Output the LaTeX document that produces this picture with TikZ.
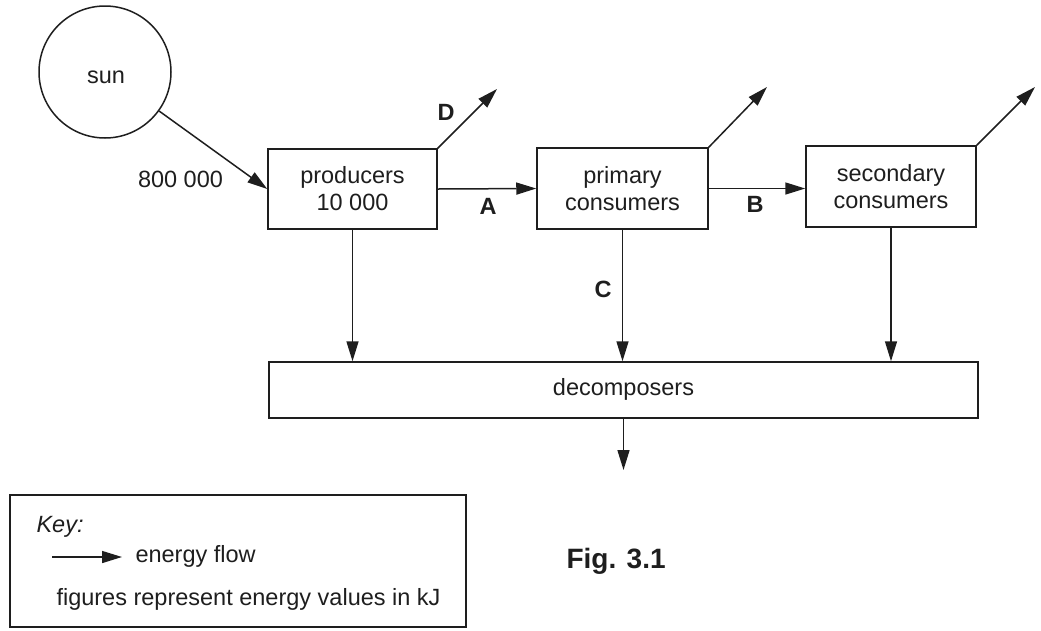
\documentclass[tikz,border=0pt]{standalone}
\usepackage{fontspec}
\setmainfont{Liberation Sans}
\usetikzlibrary{arrows.meta}
\definecolor{ink}{HTML}{1E1E1E}
\begin{document}
\begin{tikzpicture}[x=1pt,y=-1pt,
  font=\fontsize{23.5}{27}\selectfont,
  every node/.style={text=ink},
  box/.style={draw=ink, line width=1.5pt, inner sep=0pt, align=center},
  flow/.style={draw=ink, line width=1.5pt, -{Triangle[length=20pt,width=12pt]}},
  lab/.style={font=\fontsize{23.5}{27}\selectfont\bfseries, anchor=base},
  plain/.style={anchor=base},
  leftt/.style={anchor=base west},
]
\useasboundingbox (0,0) rectangle (1041,630);
% sun
\node[circle, draw=ink, line width=1.5pt, minimum size=132pt, inner sep=0pt] (sun) at (105,72) {};
\node[plain] (suntext) at (106,83) {sun};
\node[plain] (sunval) at (180.5,187) {800 000};
% boxes
\node[box, minimum width=169pt, minimum height=80pt] (prod) at (352.5,189) {producers\\10 000};
\node[box, minimum width=171pt, minimum height=81pt] (prim) at (622.5,188.5) {primary\\consumers};
\node[box, minimum width=170pt, minimum height=81pt] (sec) at (891,186.5) {secondary\\consumers};
\node[box, minimum width=709pt, minimum height=56pt] (dec) at (623.5,390) {};
\node[plain] (dectext) at (623.5,395) {decomposers};
% free ends
\coordinate (dend) at (497,89);
\coordinate (pend) at (767,87);
\coordinate (send) at (1035,87);
\coordinate (decend) at (623.5,470);
% connectors
\draw[flow] (sun) -- (prod.west);
\draw[flow] (prod.north east) -- (dend);
\draw[flow] (prim.north east) -- (pend);
\draw[flow] (sec.north east) -- (send);
\draw[flow] (prod.east) -- (prim.west);
\draw[flow] (prim.east) -- (prim.east -| sec.west);
\draw[flow] (prod.south) -- (prod.south |- dec.north);
\draw[flow] (prim.south) -- (prim.south |- dec.north);
\draw[flow] (sec.south) -- (sec.south |- dec.north);
\draw[flow] (dec.south -| decend) -- (decend);
% letters
\node[lab] (labD) at (446,120) {D};
\node[lab] (labA) at (488,214) {A};
\node[lab] (labB) at (755,212) {B};
\node[lab] (labC) at (603,297) {C};
% figure caption
\node[leftt, font=\fontsize{28}{32}\selectfont\bfseries] (fig) at (563,568) {Fig. 3.1};
% key
\node[box, minimum width=456pt, minimum height=132pt] (key) at (238,561) {};
\node[leftt] (keytitle) at (33,532) {\itshape Key:};
\coordinate (ka) at (52,557);
\coordinate (kb) at (122,557);
\draw[flow] (ka) -- (kb);
\node[leftt] (keyflow) at (132,562) {energy flow};
\node[leftt] (keyfig) at (53,605) {figures represent energy values in kJ};
\end{tikzpicture}
\end{document}
